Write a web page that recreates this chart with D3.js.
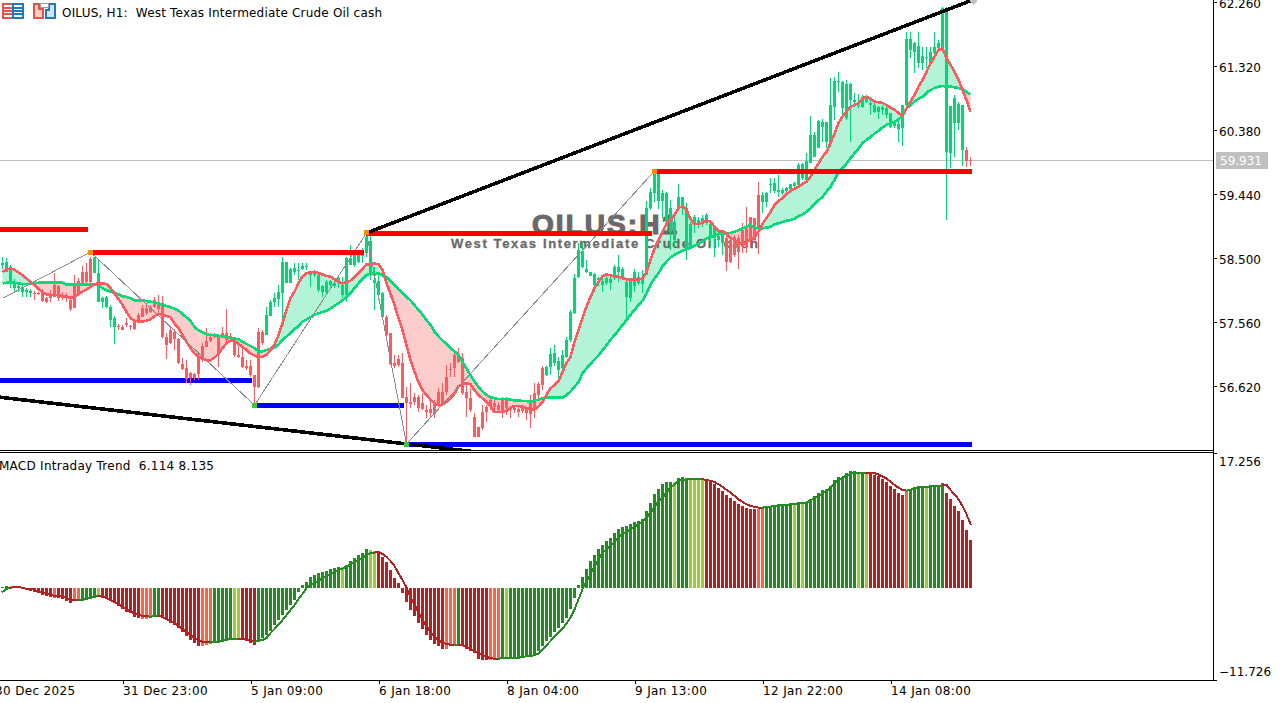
<!DOCTYPE html>
<html>
<head>
<meta charset="utf-8">
<style>
  html, body { margin: 0; padding: 0; background: #fff; overflow: hidden; }
  text { font-family: "DejaVu Sans", sans-serif; }
</style>
<script src="https://cdn.jsdelivr.net/npm/d3@7"></script>
</head>
<body>
<div class="canvas"></div>
<script>
// candle highs, one row per 10 hourly bars
const highs = [
  58.51,58.49,58.39,58.18,58.12,58.10,58.05,58.04,58.01,57.99,
  58.04,57.92,58.02,58.27,58.10,57.99,57.98,57.90,58.24,58.20,
  58.37,58.42,58.51,58.51,58.48,57.92,57.93,57.80,57.64,57.52,
  57.51,57.61,57.51,57.58,57.68,57.80,57.83,57.80,57.92,57.95,
  57.93,57.39,57.48,57.45,57.32,57.02,56.99,56.82,56.80,57.10,
  57.24,57.46,57.39,57.39,57.36,57.48,57.74,57.39,57.29,57.26,
  57.17,56.99,56.99,56.77,57.46,57.43,57.77,57.88,57.98,58.10,
  58.51,58.43,58.35,58.42,58.42,58.42,58.42,58.29,58.29,58.27,
  58.10,58.17,58.17,58.14,58.21,58.21,58.51,58.68,58.58,58.57,
  58.64,58.87,58.86,58.36,58.24,57.99,57.66,57.39,57.07,57.07,
  57.10,56.60,56.66,56.51,56.48,56.51,56.33,56.38,56.41,56.58,
  56.66,56.92,56.95,57.11,57.17,57.10,56.66,56.58,56.22,56.01,
  56.33,56.33,56.45,56.45,56.38,56.45,56.45,56.32,56.30,56.30,
  56.33,56.30,56.48,56.66,56.67,56.91,56.91,57.17,57.21,57.04,
  57.14,57.33,57.73,58.26,58.71,58.73,58.46,58.29,58.27,58.21,
  58.21,58.24,58.21,58.39,58.54,58.36,58.15,58.20,58.33,58.29,
  58.32,59.33,59.52,59.76,59.76,59.49,59.46,59.34,59.09,59.58,
  59.39,59.30,59.02,59.12,59.09,59.12,59.15,59.05,58.95,58.83,
  58.87,58.86,58.80,58.83,58.83,59.01,59.24,59.09,59.08,59.61,
  59.46,59.46,59.67,59.67,59.71,59.52,59.53,59.56,59.61,59.89,
  59.89,60.03,60.58,60.34,60.52,60.53,60.49,61.14,61.15,61.22,
  61.09,61.11,61.06,60.92,60.90,60.89,60.87,60.81,60.77,60.73,
  60.74,60.74,60.62,60.49,60.52,60.74,61.81,61.81,61.67,61.81,
  61.59,61.59,61.59,61.81,61.70,62.18,62.18,60.73,60.89,60.78,
  60.74,60.12,59.98
]
const lows = [
  58.33,58.29,58.05,57.98,57.99,57.92,57.92,57.92,57.87,57.95,
  57.85,57.83,57.85,57.92,57.86,57.87,57.85,57.71,57.76,57.93,
  58.10,58.13,58.13,58.27,57.85,57.76,57.76,57.48,57.23,57.43,
  57.43,57.48,57.43,57.43,57.54,57.63,57.66,57.68,57.76,57.68,
  57.32,57.01,57.23,57.14,56.94,56.85,56.66,56.63,56.70,56.70,
  56.97,57.19,57.26,57.32,56.89,57.32,57.26,57.26,57.04,57.02,
  56.88,56.85,56.74,56.36,56.58,57.21,57.36,57.64,57.77,57.77,
  57.58,58.13,58.13,58.24,58.17,58.32,58.32,58.07,58.21,57.99,
  57.92,57.95,58.07,58.05,58.05,57.90,57.85,58.39,58.36,58.42,
  58.42,58.51,58.17,57.73,57.87,57.63,57.33,56.92,56.88,56.89,
  56.44,55.76,56.29,56.33,56.23,56.26,56.14,56.16,56.14,56.32,
  56.33,56.48,56.74,56.74,56.95,56.48,56.16,56.23,55.86,55.86,
  55.97,56.08,56.26,56.23,56.23,56.14,56.19,56.14,56.22,56.16,
  56.22,56.11,55.99,56.14,56.44,56.55,56.76,56.77,56.91,56.73,
  56.85,57.02,57.26,57.67,58.20,58.35,58.27,58.23,57.99,58.08,
  57.99,58.10,58.02,58.17,58.14,58.17,57.61,57.85,57.99,58.10,
  57.98,58.24,59.20,59.31,59.21,59.08,58.98,58.61,58.65,59.24,
  59.12,58.46,58.64,58.86,58.93,58.95,58.98,58.65,58.51,58.65,
  58.54,58.30,58.42,58.51,58.33,58.57,58.57,58.64,58.71,58.55,
  59.15,59.24,59.45,59.45,59.39,59.42,59.45,59.45,59.49,59.56,
  59.64,59.59,59.89,59.98,60.11,60.20,60.11,60.12,60.52,60.93,
  60.59,60.52,60.20,60.71,60.70,60.70,60.77,60.59,60.62,60.53,
  60.59,60.55,60.40,60.40,60.20,60.14,60.71,61.43,61.21,61.28,
  61.25,61.28,61.36,61.40,61.52,61.55,59.05,59.81,59.98,60.37,
  59.84,59.83,59.84
]
const bodyTops = [
  58.42,58.43,58.32,58.11,58.08,58.07,58.02,58.01,57.98,57.98,
  58.01,57.90,57.93,58.10,58.08,57.93,57.95,57.87,58.08,58.15,
  58.29,58.29,58.48,58.51,58.27,57.90,57.92,57.77,57.61,57.49,
  57.48,57.54,57.49,57.55,57.66,57.76,57.76,57.77,57.87,57.85,
  57.83,57.33,57.43,57.41,57.30,56.94,56.88,56.80,56.79,57.02,
  57.20,57.27,57.33,57.36,57.33,57.39,57.39,57.35,57.27,57.07,
  57.04,56.91,56.91,56.77,57.41,57.41,57.66,57.85,57.90,57.99,
  58.43,58.43,58.33,58.35,58.32,58.37,58.37,58.26,58.27,58.24,
  58.08,58.14,58.15,58.13,58.20,58.10,58.49,58.49,58.57,58.57,
  58.61,58.80,58.74,58.17,58.15,57.98,57.63,57.39,56.95,57.01,
  56.95,56.45,56.38,56.45,56.45,56.36,56.26,56.27,56.35,56.52,
  56.52,56.74,56.86,57.07,57.07,57.02,56.52,56.44,56.16,56.01,
  56.23,56.30,56.41,56.36,56.33,56.44,56.42,56.30,56.29,56.27,
  56.29,56.27,56.38,56.51,56.64,56.88,56.89,57.08,57.10,56.98,
  57.07,57.29,57.70,58.20,58.61,58.60,58.33,58.29,58.26,58.20,
  58.15,58.20,58.18,58.36,58.36,58.33,58.14,58.15,58.29,58.21,
  58.20,59.23,59.46,59.74,59.73,59.45,59.45,59.23,59.02,59.39,
  59.39,59.23,58.99,59.09,59.05,59.08,59.12,58.99,58.93,58.82,
  58.83,58.79,58.76,58.80,58.79,58.90,58.92,59.09,59.08,59.42,
  59.42,59.45,59.58,59.59,59.49,59.49,59.52,59.58,59.59,59.86,
  59.87,59.92,60.30,60.30,60.50,60.49,60.49,60.74,61.09,61.09,
  61.08,61.05,61.05,60.81,60.74,60.84,60.84,60.77,60.74,60.71,
  60.71,60.70,60.62,60.48,60.46,60.74,61.71,61.71,61.65,61.61,
  61.46,61.44,61.52,61.59,61.65,62.16,62.16,60.73,60.84,60.75,
  60.74,60.08,59.93
]
const bodyBottoms = [
  58.39,58.29,58.11,58.05,58.05,57.99,57.99,57.98,57.96,57.96,
  57.86,57.85,57.90,57.92,57.90,57.90,57.92,57.74,57.76,57.95,
  58.12,58.14,58.14,58.27,57.85,57.85,57.77,57.58,57.48,57.48,
  57.43,57.51,57.48,57.45,57.55,57.63,57.68,57.70,57.77,57.74,
  57.33,57.21,57.24,57.30,56.95,56.86,56.71,56.73,56.73,56.79,
  56.99,57.19,57.27,57.33,57.07,57.33,57.29,57.30,57.07,57.04,
  56.89,56.88,56.77,56.60,56.60,57.24,57.36,57.64,57.85,57.89,
  57.98,58.13,58.13,58.29,58.30,58.33,58.36,58.24,58.24,58.02,
  57.99,57.99,58.10,58.08,58.13,57.95,57.95,58.39,58.39,58.43,
  58.52,58.57,58.24,58.13,57.95,57.63,57.36,56.94,56.91,56.92,
  56.44,56.36,56.35,56.38,56.29,56.27,56.23,56.22,56.20,56.33,
  56.33,56.52,56.85,56.88,56.96,56.51,56.44,56.26,55.86,55.86,
  55.99,56.23,56.30,56.30,56.26,56.23,56.29,56.26,56.26,56.23,
  56.25,56.22,56.20,56.27,56.48,56.63,56.77,56.89,56.95,56.85,
  56.88,57.04,57.29,57.68,58.21,58.36,58.29,58.23,58.10,58.17,
  58.10,58.13,58.13,58.21,58.29,58.21,57.92,57.90,58.08,58.13,
  58.11,58.24,59.23,59.45,59.33,59.33,59.02,58.87,58.76,59.24,
  59.24,58.61,58.64,58.98,58.99,59.01,59.01,58.79,58.79,58.76,
  58.71,58.43,58.43,58.54,58.58,58.65,58.68,58.76,58.76,58.95,
  59.31,59.31,59.56,59.47,59.46,59.45,59.47,59.51,59.55,59.56,
  59.67,59.64,59.89,59.98,60.11,60.42,60.20,60.20,60.71,61.08,
  60.70,60.55,60.81,60.78,60.73,60.71,60.78,60.74,60.64,60.64,
  60.67,60.59,60.42,60.43,60.39,60.40,60.74,61.55,61.52,61.36,
  61.36,61.43,61.36,61.50,61.58,61.58,60.05,60.03,60.47,60.47,
  60.08,59.92,59.92
]
// fast moving average (red line)
const fastMa = [
  58.29,58.32,58.34,58.32,58.28,58.24,58.19,58.14,58.10,58.04,
  57.99,57.96,57.95,57.95,57.95,57.94,57.92,57.91,57.92,57.96,
  58.00,58.03,58.07,58.11,58.12,58.12,58.11,58.05,57.97,57.89,
  57.80,57.70,57.61,57.57,57.56,57.56,57.57,57.59,57.64,57.67,
  57.66,57.64,57.62,57.53,57.46,57.36,57.26,57.17,57.09,57.04,
  57.02,56.99,56.99,57.03,57.09,57.17,57.24,57.28,57.28,57.23,
  57.19,57.14,57.09,57.06,57.04,57.04,57.07,57.14,57.22,57.36,
  57.53,57.73,57.90,58.00,58.12,58.22,58.27,58.28,58.29,58.27,
  58.25,58.23,58.22,58.18,58.14,58.12,58.14,58.16,58.21,58.27,
  58.33,58.40,58.40,58.41,58.40,58.32,58.12,57.97,57.80,57.61,
  57.43,57.21,56.99,56.82,56.67,56.55,56.48,56.41,56.36,56.33,
  56.34,56.38,56.43,56.50,56.61,56.64,56.65,56.64,56.55,56.48,
  56.43,56.38,56.31,56.23,56.23,56.23,56.25,56.29,56.32,56.32,
  56.31,56.29,56.27,56.27,56.31,56.38,56.48,56.58,56.63,56.68,
  56.82,56.95,57.04,57.26,57.43,57.61,57.78,57.92,58.05,58.14,
  58.23,58.25,58.24,58.22,58.22,58.20,58.18,58.17,58.18,58.18,
  58.19,58.29,58.46,58.63,58.76,58.88,59.00,59.05,59.12,59.23,
  59.25,59.20,59.06,58.99,58.99,59.01,59.04,59.03,58.95,58.89,
  58.89,58.85,58.78,58.76,58.72,58.70,58.72,58.77,58.80,58.88,
  58.99,59.08,59.17,59.27,59.33,59.37,59.43,59.48,59.51,59.54,
  59.58,59.61,59.69,59.79,59.88,59.98,60.05,60.18,60.32,60.47,
  60.57,60.64,60.71,60.74,60.77,60.84,60.86,60.83,60.79,60.78,
  60.77,60.74,60.70,60.67,60.62,60.59,60.69,60.79,60.89,61.01,
  61.11,61.23,61.35,61.45,61.55,61.57,61.43,61.33,61.23,61.11,
  60.96,60.81,60.64
]
// slow moving average (green line)
const slowMa = [
  58.12,58.13,58.13,58.13,58.12,58.11,58.11,58.11,58.12,58.13,
  58.13,58.13,58.13,58.13,58.13,58.13,58.10,58.10,58.10,58.10,
  58.10,58.10,58.10,58.10,58.09,58.05,58.02,58.00,57.98,57.96,
  57.93,57.92,57.90,57.87,57.87,57.87,57.86,57.85,57.84,57.82,
  57.80,57.79,57.77,57.75,57.72,57.67,57.62,57.57,57.48,57.43,
  57.40,57.37,57.36,57.36,57.35,57.34,57.33,57.32,57.31,57.30,
  57.26,57.23,57.20,57.17,57.12,57.12,57.14,57.16,57.18,57.22,
  57.29,57.34,57.39,57.45,57.49,57.56,57.59,57.62,57.66,57.68,
  57.70,57.72,57.75,57.79,57.83,57.87,57.92,57.98,58.05,58.12,
  58.18,58.24,58.27,58.25,58.27,58.24,58.21,58.15,58.10,58.03,
  57.98,57.92,57.87,57.80,57.73,57.66,57.58,57.51,57.41,57.34,
  57.28,57.23,57.17,57.12,57.07,56.97,56.87,56.77,56.68,56.60,
  56.53,56.48,56.45,56.43,56.42,56.42,56.42,56.41,56.40,56.40,
  56.39,56.39,56.38,56.40,56.41,56.43,56.44,56.44,56.44,56.44,
  56.44,56.48,56.53,56.60,56.67,56.80,56.87,56.94,57.00,57.06,
  57.14,57.21,57.29,57.36,57.43,57.51,57.58,57.66,57.73,57.80,
  57.87,57.97,58.10,58.19,58.27,58.37,58.44,58.50,58.54,58.57,
  58.60,58.62,58.64,58.67,58.70,58.74,58.78,58.80,58.82,58.85,
  58.85,58.85,58.86,58.88,58.90,58.93,58.95,58.98,58.94,58.93,
  58.93,58.94,58.95,58.99,59.00,59.02,59.04,59.05,59.07,59.11,
  59.13,59.17,59.22,59.29,59.34,59.39,59.47,59.54,59.64,59.76,
  59.81,59.88,59.96,60.03,60.10,60.18,60.23,60.27,60.32,60.36,
  60.41,60.45,60.47,60.49,60.53,60.57,60.69,60.74,60.79,60.83,
  60.86,60.92,60.96,60.99,61.01,61.02,61.01,61.01,61.00,60.99,
  60.97,60.93,60.90
]
// macd histogram and signal
const macdHist = [
  0.13,0.25,0.25,0.05,-0.05,-0.05,-0.13,-0.38,-0.51,-0.64,
  -0.89,-1.02,-1.15,-1.27,-1.27,-1.40,-1.66,-1.91,-1.66,-1.40,
  -1.53,-1.40,-1.15,-1.15,-1.02,-1.15,-1.40,-1.66,-1.91,-2.29,
  -2.68,-3.06,-3.19,-3.69,-3.82,-3.95,-3.95,-3.82,-3.69,-3.69,
  -3.82,-4.08,-4.46,-4.71,-5.10,-5.61,-6.12,-6.62,-7.01,-7.39,
  -7.39,-7.26,-7.13,-7.01,-6.88,-6.88,-6.75,-6.50,-6.50,-6.50,
  -6.62,-6.75,-7.01,-7.26,-6.88,-6.37,-5.99,-5.48,-4.71,-4.08,
  -3.44,-2.80,-2.17,-1.53,-0.51,0.38,0.76,1.40,1.66,1.91,
  2.04,2.17,2.42,2.55,2.68,2.68,2.93,3.44,3.82,4.20,
  4.46,4.97,4.84,4.71,4.46,3.95,3.31,2.29,1.27,0.64,
  -0.64,-1.78,-2.80,-3.57,-4.46,-5.22,-5.99,-6.62,-7.13,-7.39,
  -7.77,-7.77,-7.39,-7.26,-7.39,-7.39,-7.77,-8.03,-8.28,-9.05,
  -9.17,-9.17,-9.17,-9.17,-9.05,-9.05,-8.92,-8.92,-8.92,-8.92,
  -8.79,-8.79,-8.66,-8.41,-8.03,-7.39,-6.75,-6.24,-5.61,-5.10,
  -4.46,-3.82,-2.68,-1.27,0.38,1.40,2.42,3.44,4.20,4.97,
  5.48,5.99,6.37,7.01,7.52,7.77,7.90,8.15,8.41,8.54,
  8.79,9.81,10.83,11.98,12.61,13.25,13.50,13.50,13.50,14.01,
  14.14,13.89,13.89,13.89,13.89,13.89,13.76,13.50,13.25,12.74,
  12.36,11.85,11.47,11.08,10.70,10.45,10.19,10.06,10.06,10.06,
  10.19,10.19,10.45,10.57,10.57,10.57,10.57,10.70,10.70,10.70,
  10.70,10.96,11.34,11.72,12.10,12.49,12.61,12.99,13.76,14.14,
  14.14,14.65,14.91,14.91,14.65,14.78,14.52,14.65,14.40,14.27,
  13.89,13.50,12.99,12.61,12.10,11.85,12.36,12.49,12.87,12.87,
  12.87,12.74,13.12,13.12,13.12,13.38,12.10,11.34,10.45,9.81,
  8.66,7.39,6.114
]
const macdSignal = [
  -0.51,-0.13,0,0.13,0.13,0,-0.13,-0.13,-0.25,-0.51,
  -0.64,-0.76,-0.89,-1.02,-1.02,-1.15,-1.27,-1.53,-1.53,-1.53,
  -1.53,-1.40,-1.27,-1.15,-1.02,-1.15,-1.27,-1.53,-1.78,-2.04,
  -2.42,-2.68,-3.06,-3.19,-3.44,-3.57,-3.57,-3.69,-3.57,-3.57,
  -3.69,-3.95,-4.20,-4.46,-4.84,-5.22,-5.61,-5.99,-6.37,-6.62,
  -6.88,-6.88,-6.88,-6.88,-6.88,-6.75,-6.62,-6.50,-6.50,-6.50,
  -6.50,-6.62,-6.75,-6.88,-6.75,-6.62,-6.37,-5.73,-5.22,-4.71,
  -4.08,-3.44,-2.80,-2.17,-1.40,-0.76,0,0.38,0.64,0.89,
  1.27,1.53,1.78,2.08,2.29,2.46,2.72,3.02,3.31,3.61,
  3.86,4.16,4.42,4.50,4.59,4.33,3.95,3.44,2.80,1.87,
  1.02,0.04,-1.23,-2.08,-3.14,-3.99,-4.84,-5.61,-6.20,-6.67,
  -6.97,-7.13,-7.26,-7.30,-7.30,-7.30,-7.56,-7.81,-8.03,-8.32,
  -8.54,-8.75,-8.96,-9.00,-9.00,-8.96,-8.96,-8.96,-8.92,-8.88,
  -8.79,-8.71,-8.66,-8.58,-8.32,-7.81,-7.30,-6.75,-6.20,-5.69,
  -5.18,-4.50,-3.78,-2.72,-1.44,-0.17,0.89,1.74,2.80,3.65,
  4.50,4.93,5.35,5.86,6.54,6.84,7.13,7.47,7.81,8.11,
  8.41,8.96,9.60,10.24,11.08,11.51,12.15,12.78,13.21,13.63,
  13.76,13.85,13.85,13.85,13.85,13.85,13.76,13.63,13.51,13.21,
  12.87,12.49,12.15,11.72,11.30,10.96,10.66,10.45,10.32,10.24,
  10.24,10.28,10.36,10.45,10.53,10.53,10.57,10.66,10.70,10.79,
  10.83,10.87,11.17,11.42,11.72,12.02,12.36,12.78,13.34,13.76,
  14.06,14.35,14.52,14.69,14.61,14.65,14.65,14.65,14.61,14.44,
  14.19,13.93,13.55,13.12,12.78,12.49,12.40,12.49,12.74,12.83,
  12.83,12.87,12.95,13.00,13.00,13.08,13.08,12.49,11.93,11.30,
  10.45,9.39,8.135
]
// colour states: [first bar, state]
const candleRuns = [[0,'up'],[8,'down'],[23,'up'],[29,'down'],[66,'up'],[96,'down'],[136,'up'],[181,'down'],[190,'up'],[241,'down']]
const histRuns = [
  [0,'g'],[2,'l'],[3,'r'],[13,'o'],[14,'r'],[18,'o'],[20,'g'],[24,'l'],[25,'r'],[35,'o'],[38,'g'],[40,'r'],
  [50,'o'],[53,'g'],[58,'l'],[60,'r'],[64,'g'],[85,'l'],[86,'g'],[92,'l'],[94,'r'],[111,'o'],[114,'g'],[115,'r'],
  [122,'o'],[125,'g'],[126,'l'],[127,'g'],[168,'l'],[169,'g'],[172,'l'],[176,'r'],[189,'o'],[191,'g'],[198,'l'],
  [199,'g'],[200,'l'],[201,'g'],[214,'l'],[215,'g'],[216,'l'],[217,'r'],[226,'o'],[227,'g'],[231,'l'],[232,'g'],[236,'r']
]
// support / resistance levels: [first bar, last bar, price]
const redLevels = [[-2,21,58.92],[22,90,58.58],[91,162,58.86],[163,242,59.77]]
const blueLevels = [[-2,62,56.70],[63,100,56.33],[101,242,55.76]]
// zigzag pivots and trend lines
const zigzagBars = [0,22,63,91,101,163]
const zigzagPrices = [57.90,58.58,56.33,58.86,55.76,59.77]
const trendLines = [[[91,58.86],[242,62.27]],[[-1,56.45],[125,55.60]]]
// axis labels
const priceTicks = [62.26,61.32,60.38,59.44,58.50,57.56,56.62]
const macdTicks = [17.256,-11.726]
const timeBars = [-2,30,62,94,126,158,190,222]
const timeLabels = ['30 Dec 2025','31 Dec 23:00','5 Jan 09:00','6 Jan 18:00','8 Jan 04:00','9 Jan 13:00','12 Jan 22:00','14 Jan 08:00']
const lastPrice = 59.931

// graph setup
const dims = { width: 1282, height: 703, axisX: 1213, pricePaneBottom: 450, macdTop: 452.5, macdBottom: 680 }
const bars = d3.range(highs.length)

// expand a run list to a per bar state
const runState = (runs, i) => runs.filter(r => r[0] <= i).pop()[1]

// scales
const x = d3.scaleLinear().domain([0, 242]).range([2.5, 970.5])
const yPrice = d3.scaleLinear().domain([62.26, 56.62]).range([1.5, 385.5])
const yMacd = d3.scaleLinear().domain([17.256, -11.726]).range([dims.macdTop, dims.macdBottom])
const candleColor = d3.scaleOrdinal().domain(['up', 'down']).range(['#00d873', '#ff5a5f'])
const histColor = d3.scaleOrdinal().domain(['g', 'l', 'r', 'o']).range(['#228b22', '#9acd32', '#b22222', '#ff6347'])
const cloudColor = d3.scaleOrdinal().domain(['up', 'down']).range(['#b3f4d8', '#ffcccc'])

// create SVG
const svg = d3.select('.canvas')
  .append('svg')
  .attr('width', dims.width)
  .attr('height', dims.height)
  .style('display', 'block')

svg.append('clipPath').attr('id', 'price-clip')
  .append('rect').attr('width', dims.axisX).attr('height', dims.pricePaneBottom)
svg.append('clipPath').attr('id', 'macd-clip')
  .append('rect').attr('y', dims.macdTop).attr('width', dims.axisX).attr('height', dims.macdBottom - dims.macdTop)

const pricePane = svg.append('g').attr('clip-path', 'url(#price-clip)')
const macdPane = svg.append('g').attr('clip-path', 'url(#macd-clip)')

// current price line
pricePane.append('line')
  .attr('x1', 0).attr('x2', dims.axisX)
  .attr('y1', yPrice(lastPrice)).attr('y2', yPrice(lastPrice))
  .attr('stroke', '#c0c0c0')
  .attr('shape-rendering', 'crispEdges')

// cloud between the averages, one area per run of the same sign
const cloudArea = d3.area()
  .x(i => x(i))
  .y0(i => yPrice(fastMa[i]))
  .y1(i => yPrice(slowMa[i]))
const cloudRuns = []
bars.forEach(i => {
  const side = fastMa[i] >= slowMa[i] ? 'up' : 'down'
  const last = cloudRuns[cloudRuns.length - 1]
  if (last && last.side === side) {
    last.bars.push(i)
  } else {
    cloudRuns.push({ side, bars: last ? [i - 1, i] : [i] })
  }
})
pricePane.selectAll('.cloud')
  .data(cloudRuns)
  .enter().append('path')
  .attr('class', 'cloud')
  .attr('fill', d => cloudColor(d.side))
  .attr('d', d => cloudArea(d.bars))

// watermark text sits over the cloud, under the candles
pricePane.append('text')
  .attr('x', 532).attr('y', 234)
  .attr('textLength', 145)
  .attr('fill', '#696969').attr('stroke', '#696969').attr('stroke-width', 1.2)
  .style('font-family', '"Liberation Sans", sans-serif')
  .style('font-weight', 'bold').style('font-size', '28px')
  .text('OILUS:H1')
pricePane.append('text')
  .attr('x', 451).attr('y', 248)
  .attr('textLength', 307)
  .attr('fill', '#696969').attr('stroke', '#696969').attr('stroke-width', 0.3)
  .style('font-family', '"Liberation Sans", sans-serif')
  .style('font-weight', 'bold').style('font-size', '13px')
  .text('West Texas Intermediate Crude Oil cash')

// levels
const drawLevels = (levels, color) => {
  pricePane.selectAll('.level-' + color)
    .data(levels)
    .enter().append('rect')
    .attr('class', 'level-' + color)
    .attr('x', d => x(d[0]) - 0.5)
    .attr('width', d => x(d[1]) - x(d[0]) + 2)
    .attr('y', d => Math.round(yPrice(d[2])) - 2)
    .attr('height', 5)
    .attr('fill', color)
    .attr('shape-rendering', 'crispEdges')
}
drawLevels(blueLevels, 'blue')

// candles
const candles = pricePane.selectAll('.candle')
  .data(bars)
  .enter().append('g')
  .attr('class', 'candle')
  .attr('fill', i => candleColor(runState(candleRuns, i)))
  .attr('shape-rendering', 'crispEdges')
candles.append('rect')
  .attr('x', i => x(i) - 0.5)
  .attr('width', 1)
  .attr('y', i => yPrice(highs[i]))
  .attr('height', i => yPrice(lows[i]) - yPrice(highs[i]))
candles.append('rect')
  .attr('x', i => x(i) - 1.5)
  .attr('width', 3)
  .attr('y', i => yPrice(bodyTops[i]))
  .attr('height', i => Math.max(1, yPrice(bodyBottoms[i]) - yPrice(bodyTops[i])))

// moving averages
const maLine = values => d3.line().x(i => x(i)).y(i => yPrice(values[i]))(bars)
pricePane.append('path')
  .attr('d', maLine(slowMa))
  .attr('fill', 'none').attr('stroke', '#00dd77').attr('stroke-width', 2.6)
  .attr('shape-rendering', 'crispEdges')
pricePane.append('path')
  .attr('d', maLine(fastMa))
  .attr('fill', 'none').attr('stroke', '#ff5a5f').attr('stroke-width', 2.6)
  .attr('shape-rendering', 'crispEdges')

// zigzag
pricePane.append('path')
  .attr('d', d3.line().x(i => x(zigzagBars[i])).y(i => yPrice(zigzagPrices[i]))(d3.range(zigzagBars.length)))
  .attr('fill', 'none').attr('stroke', '#8c8c8c').attr('stroke-width', 1)
  .attr('shape-rendering', 'crispEdges')

drawLevels(redLevels, 'red')

// trend lines
pricePane.selectAll('.trend')
  .data(trendLines)
  .enter().append('line')
  .attr('class', 'trend')
  .attr('x1', d => x(d[0][0])).attr('y1', d => yPrice(d[0][1]))
  .attr('x2', d => x(d[1][0])).attr('y2', d => yPrice(d[1][1]))
  .attr('stroke', 'black').attr('stroke-width', 3.6)
  .attr('shape-rendering', 'crispEdges')

// grey handle where the upper trend line ends
pricePane.append('path')
  .attr('d', `M${x(242) + 3},-3 l4,4 l-4,4 l-4,-4 z`)
  .attr('fill', '#c0c0c0')

// pivot markers, skip the first point which is only where the line enters
pricePane.selectAll('.pivot')
  .data(d3.range(1, zigzagBars.length))
  .enter().append('rect')
  .attr('class', 'pivot')
  .attr('x', i => x(zigzagBars[i]) - 2.5)
  .attr('y', i => yPrice(zigzagPrices[i]) - 2.5)
  .attr('width', 5).attr('height', 5)
  .attr('fill', i => i % 2 ? '#ff8c00' : '#32cd32')
  .attr('shape-rendering', 'crispEdges')

// macd histogram
macdPane.selectAll('.hist')
  .data(bars)
  .enter().append('rect')
  .attr('class', 'hist')
  .attr('x', i => x(i) - 1.5)
  .attr('width', 3)
  .attr('y', i => Math.min(yMacd(0), yMacd(macdHist[i])))
  .attr('height', i => Math.abs(yMacd(macdHist[i]) - yMacd(0)))
  .attr('fill', i => histColor(runState(histRuns, i)))
  .attr('shape-rendering', 'crispEdges')

// macd signal, coloured bar by bar
macdPane.selectAll('.signal')
  .data(d3.range(1, macdSignal.length))
  .enter().append('line')
  .attr('class', 'signal')
  .attr('x1', i => x(i - 1)).attr('y1', i => yMacd(macdSignal[i - 1]))
  .attr('x2', i => x(i)).attr('y2', i => yMacd(macdSignal[i]))
  .attr('stroke', i => 'gl'.includes(runState(histRuns, i)) ? '#228b22' : '#b22222')
  .attr('stroke-width', 2)
  .attr('stroke-linecap', 'square')
  .attr('shape-rendering', 'crispEdges')

// pane frames
const frames = [
  [0, dims.axisX, dims.pricePaneBottom, dims.pricePaneBottom],
  [0, dims.axisX, dims.macdTop, dims.macdTop],
  [0, dims.axisX, dims.macdBottom, dims.macdBottom],
  [dims.axisX, dims.axisX, 0, dims.macdBottom]
]
svg.selectAll('.frame')
  .data(frames)
  .enter().append('line')
  .attr('class', 'frame')
  .attr('x1', d => d[0]).attr('x2', d => d[1])
  .attr('y1', d => d[2]).attr('y2', d => d[3])
  .attr('stroke', 'black')
  .attr('shape-rendering', 'crispEdges')

// axes
const styleAxis = g => {
  g.select('.domain').remove()
  g.selectAll('line').attr('stroke', 'black').attr('shape-rendering', 'crispEdges')
  g.selectAll('text').attr('fill', 'black').style('font-size', '12px').style('font-family', '"DejaVu Sans", sans-serif')
}
const priceAxis = svg.append('g')
  .attr('transform', `translate(${dims.axisX},0)`)
  .call(d3.axisRight(yPrice).tickValues(priceTicks).tickSize(4).tickPadding(2).tickFormat(d3.format('.3f')))
  .call(styleAxis)
priceAxis.selectAll('text').attr('dy', '0.5em')

const macdAxis = svg.append('g')
  .attr('transform', `translate(${dims.axisX},0)`)
  .call(d3.axisRight(yMacd).tickValues(macdTicks).tickSize(4).tickPadding(2).tickFormat(d3.format('.3f')))
  .call(styleAxis)
macdAxis.selectAll('text').attr('dy', d => d > 0 ? '1.05em' : '-0.35em')

const timeAxis = svg.append('g')
  .attr('transform', `translate(0,${dims.macdBottom})`)
  .call(d3.axisBottom(x).tickValues(timeBars).tickSize(4).tickPadding(2).tickFormat((d, i) => timeLabels[i]))
  .call(styleAxis)
timeAxis.selectAll('text')
  .attr('text-anchor', 'start')
  .attr('x', 0)
  .style('letter-spacing', '0.35px')

// last price label
svg.append('rect')
  .attr('x', 1216).attr('y', Math.round(yPrice(lastPrice)) - 8)
  .attr('width', 52).attr('height', 17)
  .attr('fill', '#c0c0c0')
svg.append('text')
  .attr('x', 1220).attr('y', Math.round(yPrice(lastPrice)) + 5)
  .attr('fill', 'white').style('font-size', '12px')
  .text(d3.format('.3f')(lastPrice))

// header text
svg.append('text')
  .attr('x', 62).attr('y', 17)
  .attr('fill', 'black').style('font-size', '12px').style('white-space', 'pre')
  .attr('textLength', 320)
  .text('OILUS, H1:  West Texas Intermediate Crude Oil cash')
svg.append('text')
  .attr('x', -1).attr('y', 470)
  .attr('fill', 'black').style('font-size', '12px').style('white-space', 'pre')
  .attr('textLength', 215)
  .text('MACD Intraday Trend  6.114 8.135')

// toolbar icons
const icon = svg.append('g').attr('shape-rendering', 'crispEdges').attr('stroke-width', 1.5)
icon.append('rect').attr('x', 3).attr('y', 4).attr('width', 10).attr('height', 14).attr('fill', '#fff').attr('stroke', '#e8524a')
icon.append('rect').attr('x', 13).attr('y', 4).attr('width', 10).attr('height', 14).attr('fill', '#fff').attr('stroke', '#1f78c1')
icon.selectAll('.row').data([8, 11, 14]).enter().append('line')
  .attr('class', 'row').attr('x1', 4).attr('x2', 12).attr('y1', d => d).attr('y2', d => d).attr('stroke', '#e8524a')
icon.selectAll('.row2').data([8, 11, 14]).enter().append('line')
  .attr('class', 'row2').attr('x1', 14).attr('x2', 22).attr('y1', d => d).attr('y2', d => d).attr('stroke', '#1f78c1')
icon.append('path').attr('d', 'M34,4 h5 v5 h4 v9 h-9 z').attr('fill', '#fbd0bf').attr('stroke', '#e8524a')
icon.append('path').attr('d', 'M46,10 h3 v-6 h6 v14 h-9 z').attr('fill', '#cfe6f7').attr('stroke', '#1f78c1')
icon.append('rect').attr('x', 40).attr('y', 3).attr('width', 8).attr('height', 4).attr('fill', 'white').attr('stroke', '#999').attr('stroke-width', 1)
</script>
</body>
</html>
